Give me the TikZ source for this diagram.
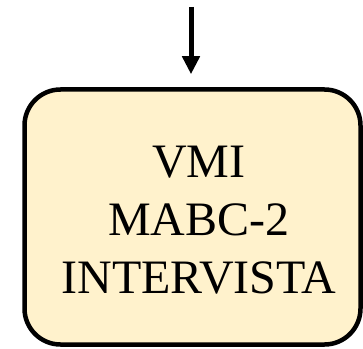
\documentclass[tikz,border=0pt]{standalone}
\usepackage{fontspec}
\setmainfont{Liberation Serif}
\usetikzlibrary{arrows.meta}
\definecolor{boxfill}{HTML}{FFF2CC}
\begin{document}
\begin{tikzpicture}[x=1pt,y=1pt,
  box/.style={draw, line width=4.5pt, fill=boxfill, rounded corners=36pt,
    minimum width=336pt, minimum height=255pt, inner sep=0pt},
  lbl/.style={align=center, font=\fontsize{48}{58}\selectfont, inner sep=0pt},
  arr/.style={line width=5pt, -{Triangle[width=17pt,length=18pt]}}]
\useasboundingbox (0,0) rectangle (363,348);
\node[box] (b) at (192.5,131) {};
\node[lbl] (t) at (199,128) {VMI\\MABC-2\\INTERVISTA};
\coordinate (s) at (191,341);
\draw[arr] (s) -- ([yshift=13pt]b.north -| s);
\end{tikzpicture}
\end{document}
